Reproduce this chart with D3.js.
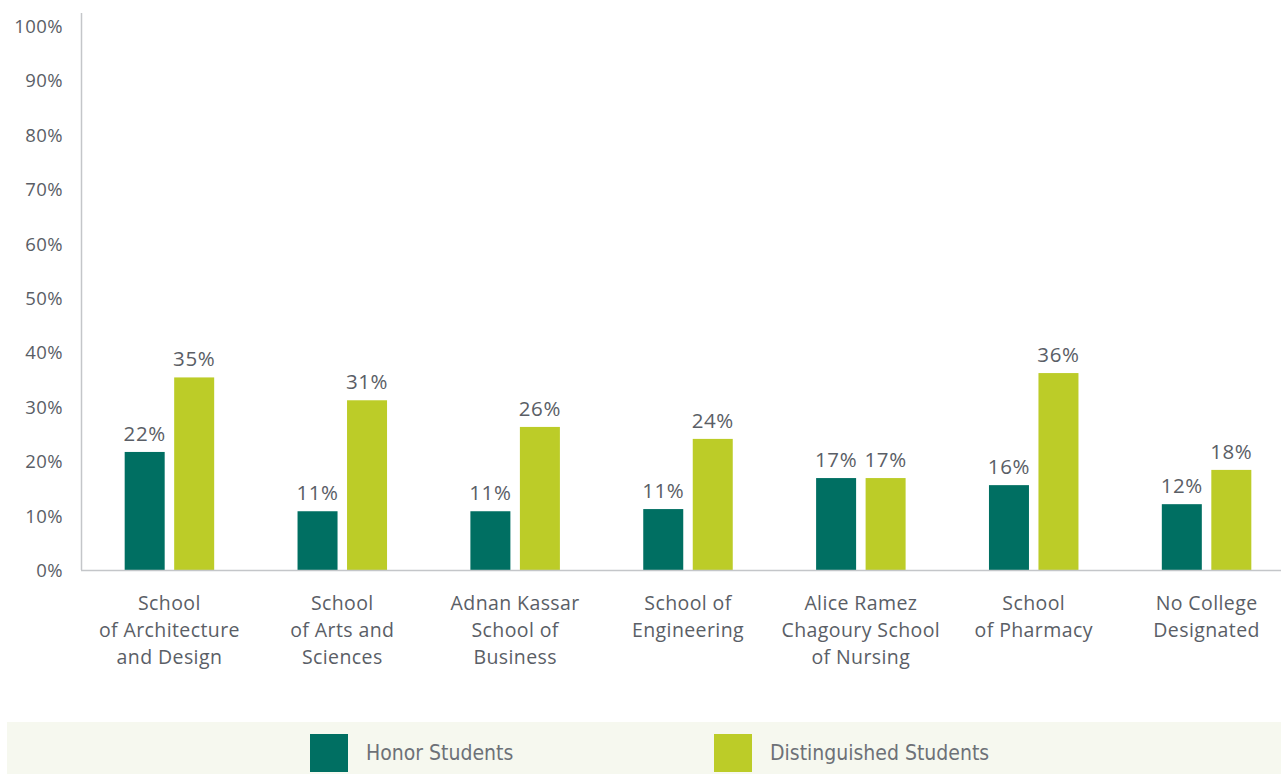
<!DOCTYPE html>
<html>
<head>
<meta charset="utf-8">
<script src="https://cdn.jsdelivr.net/npm/d3@7"></script>
<style>
  html, body { margin: 0; padding: 0; background: #ffffff; }
  svg { display: block; }
</style>
</head>
<body>
<svg id="chart" width="1281" height="774"></svg>
<script>
const categories = [
  ["School", "of Architecture", "and Design"],
  ["School", "of Arts and", "Sciences"],
  ["Adnan Kassar", "School of", "Business"],
  ["School of", "Engineering"],
  ["Alice Ramez", "Chagoury School", "of Nursing"],
  ["School", "of Pharmacy"],
  ["No College", "Designated"]
];
const seriesNames = ["Honor Students", "Distinguished Students"];
const honorValues = [21.7, 10.8, 10.8, 11.2, 16.9, 15.6, 12.1];
const distinguishedValues = [35.4, 31.2, 26.3, 24.1, 16.9, 36.2, 18.4];
const yTicks = [0, 10, 20, 30, 40, 50, 60, 70, 80, 90, 100];
const colors = ["#006f62", "#bccc28"];

const svg = d3.select("#chart");
const textColor = "#5a5e66";
const fontFamily = "'Open Sans', Lato, sans-serif";
const fw = 400;
const ls = 0.4;

const x = d3.scaleBand().domain(d3.range(categories.length)).range([83, 1293]).paddingInner(0).paddingOuter(0);
const y = d3.scaleLinear().domain([0, 100]).range([570, 26]);
const barW = 40, gap = 9.5;

// y axis
const yAxis = d3.axisLeft(y).tickValues(yTicks).tickFormat(d => d + "%").tickSize(0).tickPadding(18);
const gy = svg.append("g").attr("transform", "translate(81,0)").call(yAxis);
gy.select(".domain").remove();
gy.selectAll("text").attr("font-family", fontFamily).attr("font-weight", fw).attr("font-size", 18.5)
  .attr("letter-spacing", ls).attr("fill", textColor).attr("dy", "0.35em");

svg.append("line").attr("x1", 81.5).attr("x2", 81.5).attr("y1", 13).attr("y2", 570)
  .attr("stroke", "#c4c6c9").attr("stroke-width", 1.5);

const series = [honorValues, distinguishedValues];
series.forEach((vals, si) => {
  const g = svg.append("g");
  vals.forEach((v, i) => {
    const cx = x(i) + x.bandwidth() / 2;
    const bx = si === 0 ? cx - gap / 2 - barW : cx + gap / 2;
    g.append("rect").attr("x", bx).attr("y", y(v)).attr("width", barW).attr("height", y(0) - y(v)).attr("fill", colors[si]);
    g.append("text").attr("x", bx + barW / 2).attr("y", y(v) - 11)
      .attr("text-anchor", "middle").attr("font-family", fontFamily).attr("font-weight", fw).attr("font-size", 20.5)
      .attr("letter-spacing", 0.6).attr("fill", textColor).text(Math.round(v) + "%");
  });
});

// baseline
svg.append("line").attr("x1", 81).attr("x2", 1281).attr("y1", 570.5).attr("y2", 570.5)
  .attr("stroke", "#c4c6c9").attr("stroke-width", 1.5);

// category labels
categories.forEach((lines, i) => {
  const cx = x(i) + x.bandwidth() / 2;
  const t = svg.append("text").attr("text-anchor", "middle").attr("font-family", fontFamily)
    .attr("font-weight", fw).attr("font-size", 19.5).attr("letter-spacing", ls).attr("fill", textColor);
  lines.forEach((ln, j) => {
    t.append("tspan").attr("x", cx).attr("y", 610 + j * 27).text(ln);
  });
});

// legend
svg.append("rect").attr("x", 7).attr("y", 722).attr("width", 1274).attr("height", 52).attr("fill", "#f6f8ef");
const legendX = [310, 714];
seriesNames.forEach((name, i) => {
  svg.append("rect").attr("x", legendX[i]).attr("y", 734).attr("width", 38).attr("height", 38).attr("fill", colors[i]);
  svg.append("text").attr("x", legendX[i] + 56).attr("y", 753).attr("dy", "0.35em")
    .attr("font-family", "'DejaVu Sans Condensed', 'Liberation Sans Narrow', sans-serif")
    .attr("font-size", 21).attr("fill", "#6d7177").text(name);
});
</script>
</body>
</html>
